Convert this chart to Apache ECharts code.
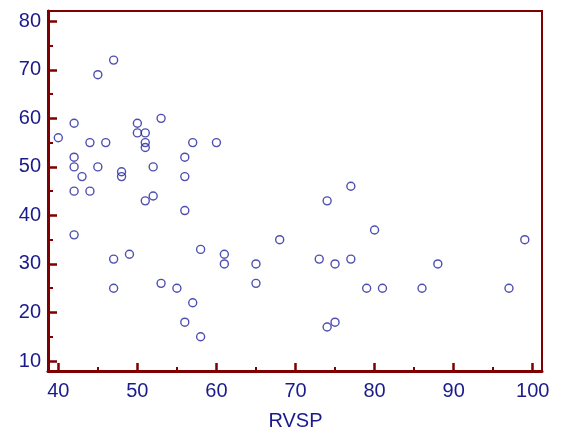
<!DOCTYPE html>
<html>
<head>
<meta charset="utf-8">
<script src="https://cdn.jsdelivr.net/npm/echarts@6/dist/echarts.min.js"></script>
<style>html,body{margin:0;padding:0;background:#fff;}#c{width:565px;height:431px;}</style>
</head>
<body>
<div id="c"></div>
<script>
var rvsp = [40,42,42,42,42,42,43,44,44,45,45,46,47,47,47,48,48,49,50,50,51,51,51,51,52,52,53,53,55,56,56,56,56,57,57,58,58,60,61,61,65,65,68,73,74,74,75,75,77,77,79,80,81,86,88,97,99];
var yVals = [56,59,52,50,45,36,48,55,45,69,50,55,72,31,25,49,48,32,59,57,57,55,54,43,50,44,60,26,25,52,48,41,18,55,22,33,15,55,32,30,30,26,35,31,43,17,30,18,46,31,25,37,25,25,30,25,35];
var xName = 'RVSP';

var axisRed = '#7f0000';
var textBlue = '#1a1a8c';
var font = 'Liberation Sans, Arial, sans-serif';
var pts = rvsp.map(function (x, i) { return [x, yVals[i]]; });

var chart = echarts.init(document.getElementById('c'), null, {renderer: 'canvas'});
chart.setOption({
  animation: false,
  backgroundColor: '#fff',
  grid: [
    {left: 48, top: 11, width: 494, height: 360, show: true, borderColor: axisRed, borderWidth: 2, backgroundColor: 'transparent', containLabel: false, outerBoundsMode: 'none'},
    {left: 58.3, top: 21.3, width: 474.4, height: 339.7, show: false, containLabel: false, outerBoundsMode: 'none'}
  ],
  xAxis: [
    {gridIndex: 0, type: 'value', min: 0, max: 1, axisLine: {show: true, lineStyle: {color: axisRed, width: 3}}, axisTick: {show: false}, axisLabel: {show: false}, splitLine: {show: false}},
    {gridIndex: 1, type: 'value', min: 40, max: 100, interval: 10, offset: 10,
     name: xName, nameLocation: 'middle', nameGap: 40,
     nameTextStyle: {color: textBlue, fontSize: 20, fontFamily: font},
     axisLine: {show: false},
     axisTick: {show: true, inside: true, length: 8, lineStyle: {color: axisRed, width: 2.5}},
     minorTick: {show: true, splitNumber: 2, length: 4, lineStyle: {color: axisRed, width: 2}},
     axisLabel: {color: textBlue, fontSize: 20, margin: 10, fontFamily: font},
     splitLine: {show: false}}
  ],
  yAxis: [
    {gridIndex: 0, type: 'value', min: 0, max: 1, axisLine: {show: true, lineStyle: {color: axisRed, width: 3}}, axisTick: {show: false}, axisLabel: {show: false}, splitLine: {show: false}},
    {gridIndex: 1, type: 'value', min: 10, max: 80, interval: 10, offset: 10.3,
     axisLine: {show: false},
     axisTick: {show: true, inside: true, length: 9, lineStyle: {color: axisRed, width: 2.5}},
     minorTick: {show: true, splitNumber: 2, length: 5, lineStyle: {color: axisRed, width: 2}},
     axisLabel: {color: textBlue, fontSize: 20, margin: 7, fontFamily: font},
     splitLine: {show: false}}
  ],
  series: [{
    type: 'scatter',
    xAxisIndex: 1,
    yAxisIndex: 1,
    clip: false,
    symbol: 'circle',
    symbolSize: 8,
    itemStyle: {color: 'transparent', borderColor: '#23239c', borderWidth: 1.4},
    data: pts
  }]
});
</script>
</body>
</html>
